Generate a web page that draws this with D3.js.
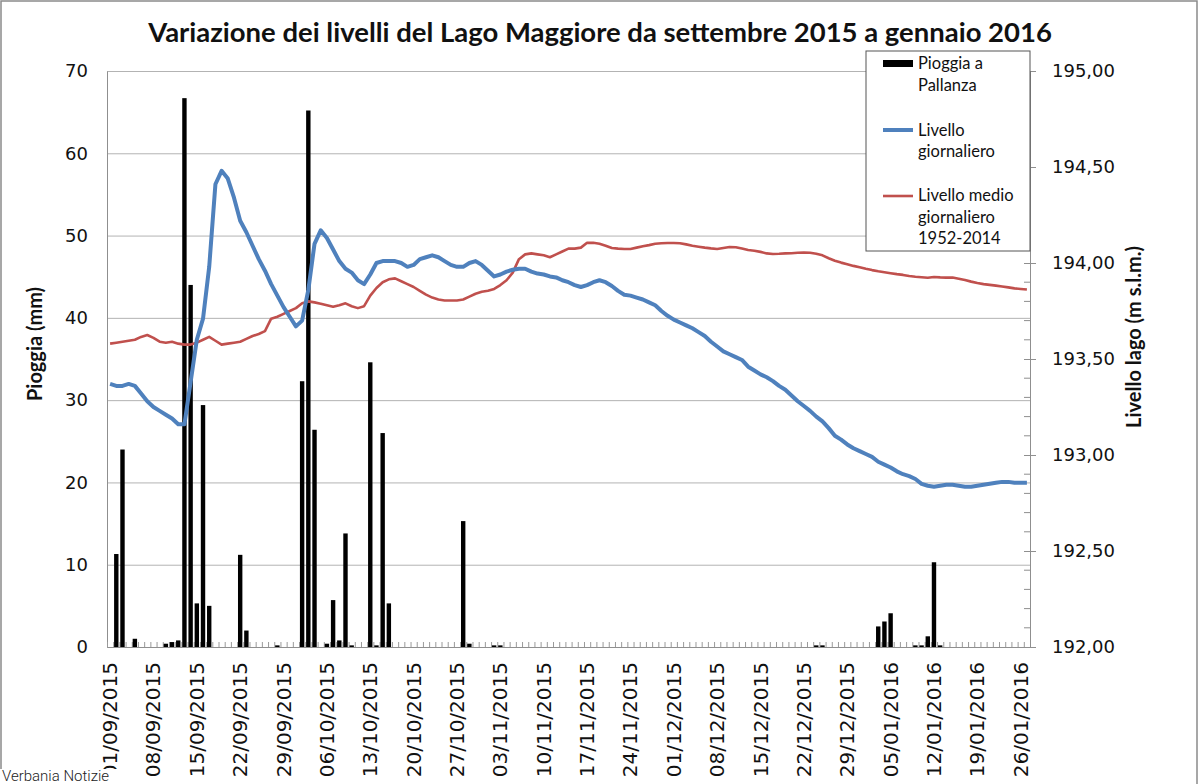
<!DOCTYPE html>
<html>
<head>
<meta charset="utf-8">
<script src="https://cdn.jsdelivr.net/npm/d3@7"></script>
<style>
  body { margin: 0; background: #fff; }
  svg { display: block; }
</style>
</head>
<body>
<svg id="chart" width="1200" height="784"></svg>
<script>
// giorni dal 01/09/2015 al 27/01/2016
const days = d3.utcDay.range(new Date(Date.UTC(2015, 8, 1)), new Date(Date.UTC(2016, 0, 28)));

// pioggia a Pallanza (mm)
const rain = [
  0, 11.3, 24, 0, 1, 0, 0, 0, 0, 0.4,
  0.6, 0.8, 66.7, 44, 5.3, 29.4, 5, 0, 0, 0,
  0, 11.2, 2, 0, 0, 0, 0, 0.2, 0, 0,
  0, 32.3, 65.2, 26.4, 0, 0.4, 5.7, 0.8, 13.8, 0.2,
  0, 0, 34.6, 0.2, 26, 5.3, 0, 0, 0, 0,
  0, 0, 0, 0, 0, 0, 0, 15.3, 0.4, 0,
  0, 0, 0.2, 0.2, 0, 0, 0, 0, 0, 0,
  0, 0, 0, 0, 0, 0, 0, 0, 0, 0,
  0, 0, 0, 0, 0, 0, 0, 0, 0, 0,
  0, 0, 0, 0, 0, 0, 0, 0, 0, 0,
  0, 0, 0, 0, 0, 0, 0, 0, 0, 0,
  0, 0, 0, 0, 0.2, 0.2, 0, 0, 0, 0,
  0, 0, 0, 0, 2.5, 3.1, 4.1, 0, 0, 0,
  0.2, 0.2, 1.3, 10.3, 0.2, 0, 0, 0, 0, 0,
  0, 0, 0, 0, 0, 0, 0, 0, 0
];

// livello giornaliero (m s.l.m.)
const livello = [
  193.37, 193.36, 193.36, 193.37, 193.36, 193.32, 193.28, 193.25, 193.23, 193.21,
  193.19, 193.16, 193.16, 193.38, 193.60, 193.71, 193.98, 194.41, 194.48, 194.44,
  194.34, 194.22, 194.16, 194.09, 194.02, 193.96, 193.89, 193.83, 193.77, 193.72,
  193.67, 193.70, 193.86, 194.10, 194.17, 194.13, 194.07, 194.01, 193.97, 193.95,
  193.91, 193.89, 193.94, 194.00, 194.01, 194.01, 194.01, 194.00, 193.98, 193.99,
  194.02, 194.03, 194.04, 194.03, 194.01, 193.99, 193.98, 193.98, 194.00, 194.01,
  193.99, 193.96, 193.93, 193.94, 193.955, 193.965, 193.97, 193.97, 193.955, 193.945,
  193.94, 193.93, 193.925, 193.91, 193.90, 193.885, 193.875, 193.885, 193.90, 193.91,
  193.90, 193.88, 193.855, 193.835, 193.83, 193.82, 193.81, 193.795, 193.78, 193.75,
  193.725, 193.705, 193.69, 193.675, 193.66, 193.64, 193.62, 193.59, 193.565, 193.54,
  193.525, 193.51, 193.495, 193.46, 193.44, 193.42, 193.405, 193.385, 193.36, 193.34,
  193.31, 193.28, 193.255, 193.23, 193.20, 193.175, 193.14, 193.10, 193.08, 193.055,
  193.035, 193.02, 193.005, 192.99, 192.965, 192.95, 192.935, 192.915, 192.90, 192.89,
  192.875, 192.85, 192.84, 192.835, 192.84, 192.845, 192.845, 192.84, 192.835, 192.835,
  192.84, 192.845, 192.85, 192.855, 192.86, 192.86, 192.855, 192.855, 192.855
];

// livello medio giornaliero 1952-2014
const medio = [
  193.58, 193.585, 193.59, 193.595, 193.60, 193.615, 193.625, 193.61, 193.59, 193.585,
  193.59, 193.58, 193.575, 193.575, 193.585, 193.60, 193.615, 193.595, 193.575, 193.58,
  193.585, 193.59, 193.605, 193.62, 193.63, 193.645, 193.71, 193.72, 193.735, 193.75,
  193.765, 193.79, 193.80, 193.795, 193.788, 193.78, 193.772, 193.78, 193.79, 193.775,
  193.765, 193.775, 193.83, 193.87, 193.90, 193.915, 193.92, 193.905, 193.89, 193.875,
  193.855, 193.835, 193.82, 193.81, 193.805, 193.805, 193.805, 193.81, 193.825, 193.84,
  193.85, 193.855, 193.865, 193.885, 193.91, 193.95, 194.02, 194.045, 194.05, 194.045,
  194.04, 194.03, 194.045, 194.06, 194.075, 194.075, 194.08, 194.105, 194.105, 194.10,
  194.09, 194.078, 194.075, 194.073, 194.073, 194.08, 194.087, 194.093, 194.10, 194.103,
  194.104, 194.104, 194.103, 194.097, 194.09, 194.085, 194.08, 194.076, 194.073, 194.078,
  194.083, 194.082, 194.075, 194.068, 194.064, 194.058, 194.05, 194.047, 194.048, 194.05,
  194.051, 194.053, 194.054, 194.053, 194.048, 194.04, 194.025, 194.012, 194.002, 193.994,
  193.985, 193.978, 193.97, 193.963, 193.957, 193.952, 193.947, 193.942, 193.938, 193.932,
  193.928, 193.926, 193.923, 193.927, 193.925, 193.924, 193.924, 193.918, 193.911, 193.903,
  193.896, 193.89, 193.886, 193.882, 193.878, 193.873, 193.868, 193.865, 193.862
];

const rainTicks = [0, 10, 20, 30, 40, 50, 60, 70];
const levelTicks = [192, 192.5, 193, 193.5, 194, 194.5, 195];

const svg = d3.select("#chart");
const plotL = 107, plotR = 1030, plotT = 71, plotB = 647;
const fmtDay = d3.utcFormat("%d/%m/%Y");

const x = d3.scaleBand().domain(days).range([plotL, plotR]).padding(0);
const yRain = d3.scaleLinear().domain([0, 70]).range([plotB, plotT]);
const yLev = d3.scaleLinear().domain([192, 195]).range([plotB, plotT]);
const cx = d => x(d) + x.bandwidth() / 2;

// cornice
svg.append("rect")
  .attr("x", 1).attr("y", 1).attr("width", 1196).attr("height", 800)
  .attr("fill", "none").attr("stroke", "#8a8a8a").attr("stroke-width", 1.5);

// titolo
const title = svg.append("text")
  .attr("x", 600).attr("y", 42)
  .attr("text-anchor", "middle")
  .attr("font-family", "Lato, 'Open Sans', sans-serif")
  .attr("font-weight", "bold")
  .attr("font-size", 26)
  .attr("fill", "#111")
  .text("Variazione dei livelli del Lago Maggiore da settembre 2015 a gennaio 2016");
const tw = title.node().getComputedTextLength();
title.attr("font-size", 26 * 904 / tw);

// griglia
svg.append("g")
  .selectAll("line")
  .data(rainTicks)
  .join("line")
  .attr("x1", plotL).attr("x2", plotR)
  .attr("y1", d => yRain(d) + 0.5).attr("y2", d => yRain(d) + 0.5)
  .attr("stroke", "#b3b3b3").attr("stroke-width", 1);

// asse sinistro
const axL = svg.append("g")
  .attr("transform", `translate(${plotL},0)`)
  .call(d3.axisLeft(yRain).tickValues(rainTicks).tickSize(0).tickPadding(19));
axL.select(".domain").attr("stroke", "#8f8f8f");
axL.selectAll("text")
  .attr("font-family", "'DejaVu Sans', Verdana, sans-serif")
  .attr("font-size", 18)
  .attr("fill", "#111");

// asse destro
const axR = svg.append("g")
  .attr("transform", `translate(${plotR},0)`)
  .call(d3.axisRight(yLev).tickValues(levelTicks).tickSize(6).tickPadding(16)
    .tickFormat(d => d3.format(".2f")(d).replace(".", ",")));
axR.select(".domain").attr("stroke", "#8f8f8f");
axR.selectAll(".tick line").attr("x1", -6).attr("stroke", "#8f8f8f");
axR.selectAll("text")
  .attr("font-family", "'DejaVu Sans', Verdana, sans-serif")
  .attr("font-size", 18)
  .attr("fill", "#111");
// tacche secondarie
axR.append("g")
  .selectAll("line")
  .data(d3.range(1920, 1951).map(d => d / 10).filter(d => !levelTicks.includes(d)))
  .join("line")
  .attr("x1", -6).attr("x2", 0)
  .attr("y1", d => yLev(d)).attr("y2", d => yLev(d))
  .attr("stroke", "#8f8f8f");

// asse x
const axB = svg.append("g")
  .attr("transform", `translate(0,${plotB})`)
  .call(d3.axisBottom(x).tickValues(days.filter((d, i) => i % 7 === 0)).tickSize(0).tickFormat(fmtDay));
axB.select(".domain").attr("stroke", "#8f8f8f");
axB.selectAll("text")
  .attr("font-family", "'DejaVu Sans', Verdana, sans-serif")
  .attr("font-size", 20)
  .attr("fill", "#111")
  .attr("text-anchor", "end")
  .attr("transform", "rotate(-90)")
  .attr("x", -15)
  .attr("y", 0)
  .attr("dy", "0.35em");
// tacche giornaliere
svg.append("g")
  .selectAll("line")
  .data(days)
  .join("line")
  .attr("x1", d => x(d) + 0.5).attr("x2", d => x(d) + 0.5)
  .attr("y1", plotB - 5).attr("y2", plotB)
  .attr("stroke", "#9a9a9a");

// barre pioggia
svg.append("g")
  .selectAll("rect")
  .data(days)
  .join("rect")
  .attr("x", d => cx(d) - 2.2)
  .attr("width", 4.4)
  .attr("y", (d, i) => yRain(rain[i]))
  .attr("height", (d, i) => plotB - yRain(rain[i]))
  .attr("fill", "#000");

// linee livello
const lineLev = d3.line()
  .x(d => cx(d.day))
  .y(d => yLev(d.v));

svg.append("path")
  .datum(days.map((d, i) => ({ day: d, v: medio[i] })))
  .attr("d", lineLev)
  .attr("fill", "none")
  .attr("stroke", "#c0504d")
  .attr("stroke-width", 2.6)
  .attr("stroke-linejoin", "round");

svg.append("path")
  .datum(days.map((d, i) => ({ day: d, v: livello[i] })))
  .attr("d", lineLev)
  .attr("fill", "none")
  .attr("stroke", "#4f81bd")
  .attr("stroke-width", 4)
  .attr("stroke-linejoin", "round");

// titoli assi
svg.append("text")
  .attr("transform", "translate(42,344) rotate(-90)")
  .attr("text-anchor", "middle")
  .attr("font-family", "Lato, 'Open Sans', sans-serif")
  .attr("font-weight", "bold")
  .attr("font-size", 20)
  .attr("fill", "#111")
  .text("Pioggia (mm)");

svg.append("text")
  .attr("transform", "translate(1141,337) rotate(-90)")
  .attr("text-anchor", "middle")
  .attr("font-family", "Lato, 'Open Sans', sans-serif")
  .attr("font-weight", "bold")
  .attr("font-size", 20)
  .attr("fill", "#111")
  .text("Livello lago (m s.l.m.)");

// legenda
const leg = svg.append("g").attr("transform", "translate(866,51)");
leg.append("rect")
  .attr("x", 0).attr("y", 0).attr("width", 164).attr("height", 200)
  .attr("fill", "#fff").attr("stroke", "#555").attr("stroke-width", 1);
leg.append("rect")
  .attr("x", 17).attr("y", 9).attr("width", 30).attr("height", 7)
  .attr("fill", "#000");
leg.append("line")
  .attr("x1", 17).attr("x2", 47).attr("y1", 79).attr("y2", 79)
  .attr("stroke", "#4f81bd").attr("stroke-width", 4);
leg.append("line")
  .attr("x1", 17).attr("x2", 47).attr("y1", 145).attr("y2", 145)
  .attr("stroke", "#c0504d").attr("stroke-width", 2.6);
const legLines = [
  ["Pioggia a", 18], ["Pallanza", 40],
  ["Livello", 85], ["giornaliero", 106],
  ["Livello medio", 150], ["giornaliero", 172], ["1952-2014", 193]
];
leg.selectAll("text.lab")
  .data(legLines)
  .join("text")
  .attr("class", "lab")
  .attr("x", 52)
  .attr("y", d => d[1])
  .attr("font-family", "Lato, 'Open Sans', sans-serif")
  .attr("font-size", 16.5)
  .attr("fill", "#111")
  .text(d => d[0]);

// firma
svg.append("rect")
  .attr("x", 0).attr("y", 769).attr("width", 130).attr("height", 15)
  .attr("fill", "#fff");
svg.append("text")
  .attr("x", 2).attr("y", 781)
  .attr("font-family", "Roboto, 'Liberation Sans', sans-serif")
  .attr("font-weight", 300)
  .attr("font-size", 15)
  .attr("fill", "#222")
  .text("Verbania Notizie");
</script>
</body>
</html>
